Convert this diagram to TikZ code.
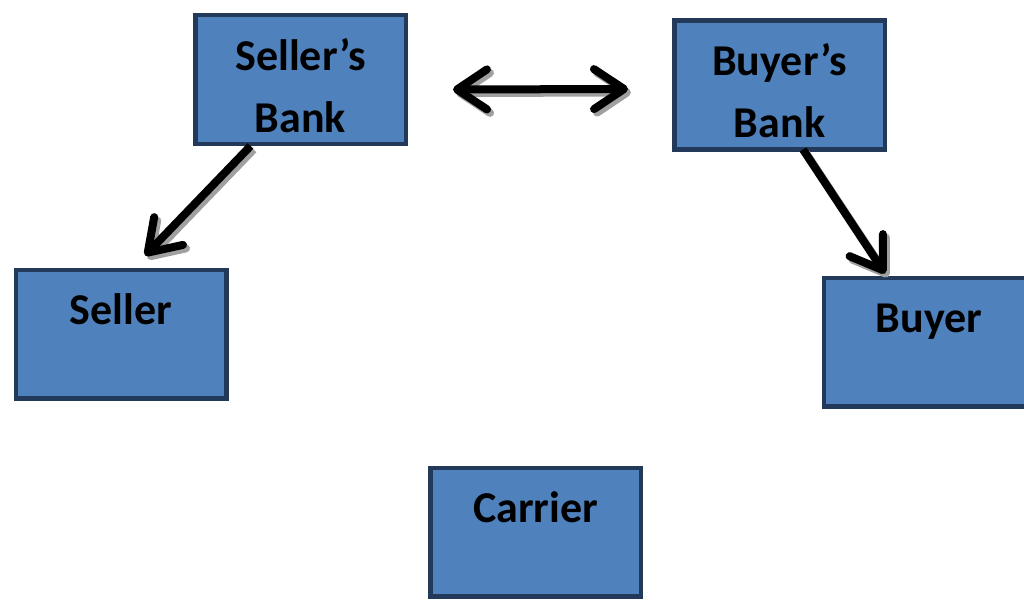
\documentclass[tikz,border=0pt]{standalone}
\usepackage{fontspec}
\setmainfont{Carlito}
\usetikzlibrary{arrows.meta}
\definecolor{boxfill}{HTML}{4F81BD}
\definecolor{boxline}{HTML}{22395A}
\definecolor{shadowgray}{HTML}{A0A0A0}
\newcommand\shadowedarrow[3]{%
  \draw[conn,shadowgray,#1,transform canvas={shift={(3pt,-3.5pt)}}] #2 -- #3;
  \draw[conn,#1] #2 -- #3;}
\begin{document}
\begin{tikzpicture}[x=1pt,y=-1pt,
  box/.style={draw=boxline,fill=boxfill,line width=4.5pt,minimum width=210.5pt,minimum height=128.5pt,inner sep=0pt},
  lbl/.style={font=\fontsize{44}{62}\selectfont\bfseries,align=center,inner sep=0pt,anchor=base,text=black},
  tipbarb/.tip={Straight Barb[length=30pt,width=40pt,round]},
  conn/.style={line width=8pt,black}]
\useasboundingbox (0,0) rectangle (1024,599);
\clip (0,0) rectangle (1024,599);
\node[box] (sbank) at (300.5,79.5) {};
\node[box] (bbank) at (779.5,85) {};
\node[box] (seller) at (121,334) {};
\node[box] (buyer) at (929,342) {};
\node[box] (carrier) at (535.5,532) {};
\node[lbl] (tsbank) at ([yshift=-119pt]sbank.north) {Seller’s\\Bank};
\node[lbl] (tbbank) at ([yshift=-119pt]bbank.north) {Buyer’s\\Bank};
\node[lbl] (tseller) at ([yshift=-57pt]seller.north) {Seller};
\node[lbl] (tbuyer) at ([yshift=-57pt]buyer.north) {Buyer};
\node[lbl] (tcarrier) at ([yshift=-57pt]carrier.north) {Carrier};
\shadowedarrow{tipbarb-tipbarb}{([xshift=45pt,yshift=-10pt]sbank.east)}{([xshift=-44pt,yshift=-4pt]bbank.west)}
\shadowedarrow{-tipbarb}{([xshift=-50pt]sbank.south)}{([xshift=24pt,yshift=12pt]seller.north)}
\shadowedarrow{-tipbarb}{([xshift=23.5pt,yshift=2pt]bbank.south)}{([xshift=-44pt,yshift=2pt]buyer.north)}
\end{tikzpicture}
\end{document}
